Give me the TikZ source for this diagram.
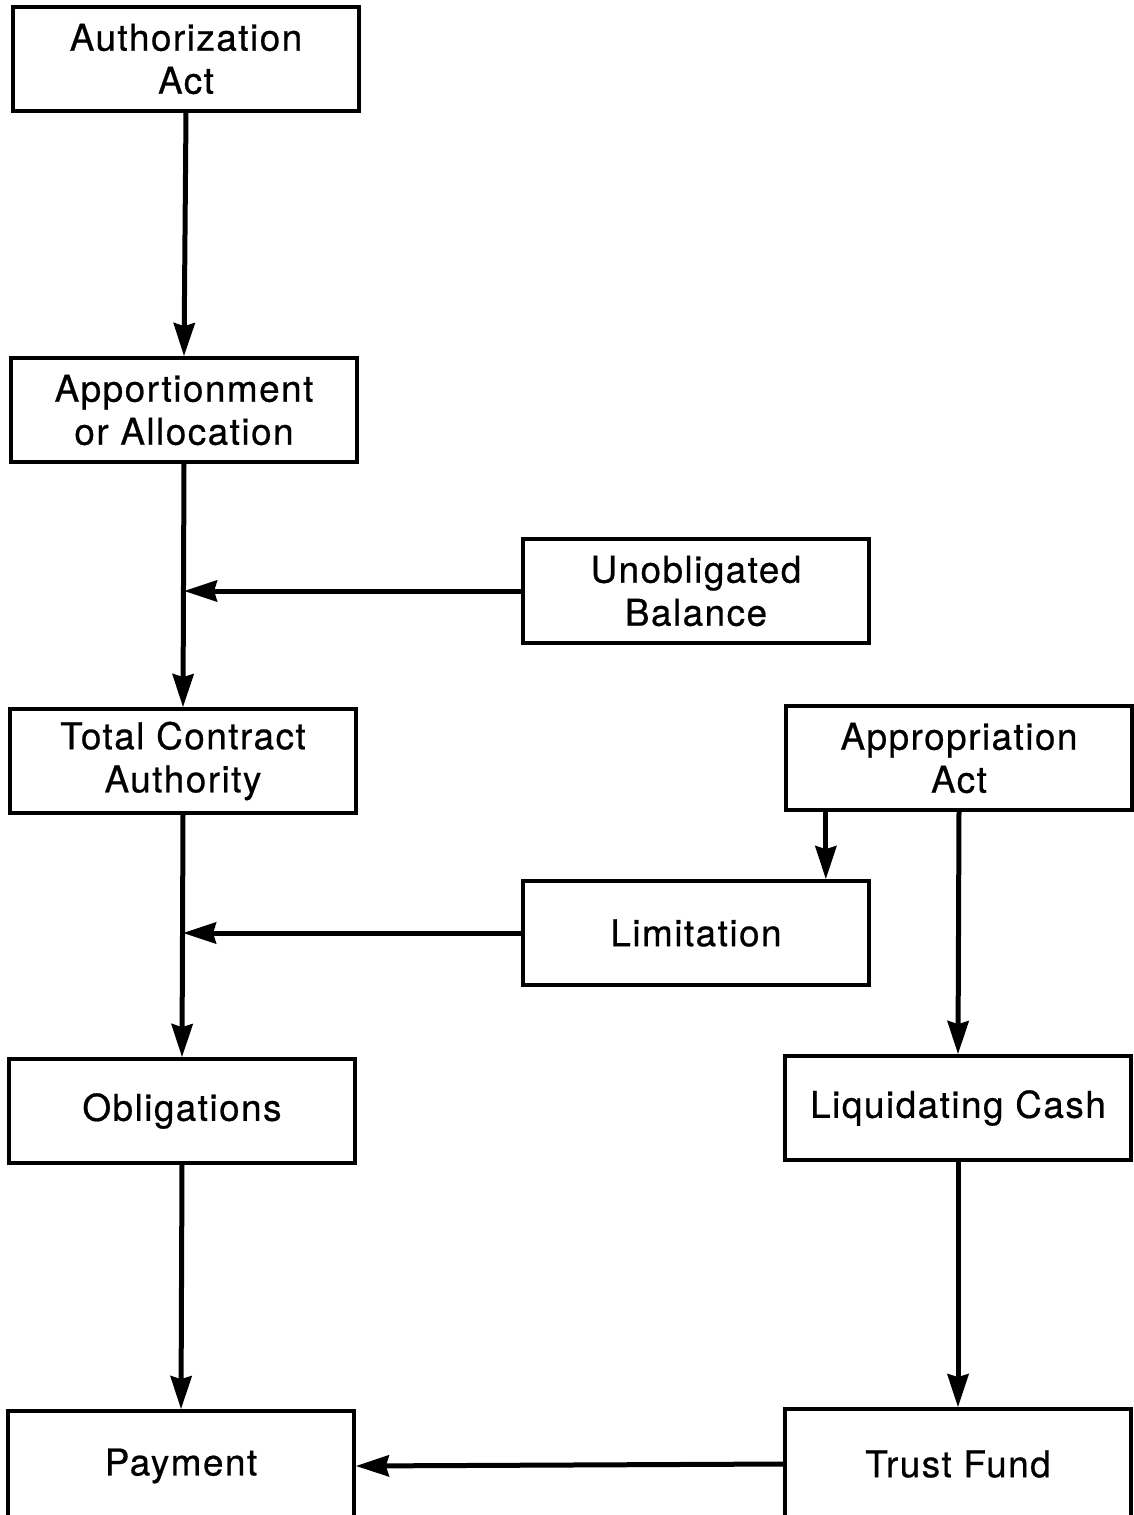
\documentclass[tikz,border=0pt]{standalone}
\usepackage{fontspec}
\setmainfont{TeX Gyre Heros}[LetterSpace=4,FakeBold=0.6]
\usetikzlibrary{arrows.meta}
\begin{document}
\begin{tikzpicture}[x=0.02cm,y=-0.02cm,
  box/.style={draw,line width=0.075cm,minimum width=6.92cm,minimum height=2.08cm,
    align=center,inner sep=0pt,font=\fontsize{21}{24.5}\selectfont},
  flow/.style={line width=0.1cm,-{Stealth[length=0.66cm,width=0.42cm,inset=0.06cm]}}]
\useasboundingbox (0,0) rectangle (1133,1515);
\node[box] (auth) at (186,59) {Authorization\\Act};
\node[box] (appor) at (184,410) {Apportionment\\or Allocation};
\node[box] (unobl) at (696,591) {Unobligated\\Balance};
\node[box] (total) at (183,761) {Total Contract\\Authority};
\node[box] (approp) at (959,758) {Appropriation\\Act};
\node[box] (limit) at (696,933) {Limitation};
\node[box] (oblig) at (182,1111) {Obligations};
\node[box] (liquid) at (958,1108) {Liquidating Cash};
\node[box,minimum height=2.2cm] (pay) at (181,1466) {Payment};
\node[box,minimum height=2.2cm] (trust) at (958,1464) {Trust Fund};
% main column
\draw[flow] (auth.south) -- (appor.north);
\draw[flow] (appor.south) -- (total.north);
\draw[flow] (total.south) -- (oblig.north);
\draw[flow] (oblig.south) -- (pay.north);
% side inputs
\draw[flow] (unobl.west) -- (unobl.west -| appor.south);
\draw[flow] (limit.west) -- (limit.west -| total.south);
\draw[flow] (approp.south -| limit.north east) ++(-45,0) coordinate (a1) -- (a1 |- limit.north);
\draw[flow] (approp.south) -- (liquid.north);
\draw[flow] (liquid.south) -- (trust.north);
\draw[flow] (trust.west) -- (pay.east);
\end{tikzpicture}
\end{document}
